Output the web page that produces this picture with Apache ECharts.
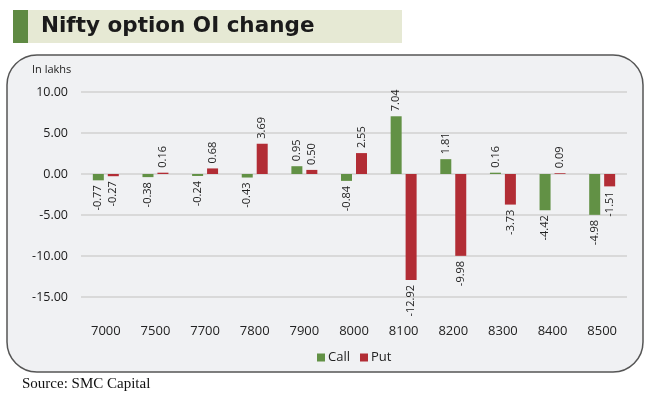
<!DOCTYPE html>
<html>
<head>
<meta charset="utf-8">
<script src="https://cdn.jsdelivr.net/npm/echarts@6/dist/echarts.min.js"></script>
<style>
  html, body { margin: 0; padding: 0; background: #fff; }
  #chart { width: 652px; height: 398px; }
</style>
</head>
<body>
<div id="chart"></div>
<script>
// strikes and OI change (in lakhs)
const strikes = ['7000', '7500', '7700', '7800', '7900', '8000', '8100', '8200', '8300', '8400', '8500'];
const callOI = [-0.77, -0.38, -0.24, -0.43, 0.95, -0.84, 7.04, 1.81, 0.16, -4.42, -4.98];
const putOI = [-0.27, 0.16, 0.68, 3.69, 0.50, 2.55, -12.92, -9.98, -3.73, 0.09, -1.51];
const yTicks = [-15, -10, -5, 0, 5, 10];

const GREEN = '#629145';
const RED = '#b22d35';
const FONT = '"Open Sans", sans-serif';

// label above positive bars, below negative ones
function withLabels(values) {
  return values.map(v => ({
    value: v,
    label: v >= 0
      ? { position: 'top', align: 'left' }
      : { position: 'bottom', align: 'right' }
  }));
}

const chart = echarts.init(document.getElementById('chart'));

const labelStyle = {
  show: true,
  rotate: 90,
  verticalAlign: 'middle',
  distance: 5,
  fontFamily: FONT,
  fontSize: 11,
  color: '#222',
  formatter: p => p.value.toFixed(2)
};

chart.setOption({
  animation: false,
  graphic: [
    // title bar
    { type: 'rect', shape: { x: 13, y: 10, width: 389, height: 33 }, style: { fill: '#e6e9d4' }, z: 0 },
    { type: 'rect', shape: { x: 13, y: 10, width: 15, height: 33 }, style: { fill: '#5f8a43' }, z: 1 },
    { type: 'text', x: 41, y: 26, style: { text: 'Nifty option OI change', font: 'bold 21.5px "DejaVu Sans"', fill: '#1b1b1b', verticalAlign: 'middle' }, z: 2 },
    // chart frame
    { type: 'rect', shape: { x: 7, y: 55, width: 636, height: 317, r: 30 }, style: { fill: '#f0f1f3', stroke: '#555', lineWidth: 1.5 }, z: -1 },
    { type: 'text', x: 32, y: 70, style: { text: 'In lakhs', font: '11px ' + FONT, fill: '#222', verticalAlign: 'middle' } },
    // source
    { type: 'text', x: 22, y: 384, style: { text: 'Source: SMC Capital', font: '15px "Liberation Serif"', fill: '#111', verticalAlign: 'middle' } }
  ],
  legend: {
    left: 312,
    top: 346,
    itemWidth: 8,
    itemHeight: 8,
    itemGap: 10,
    icon: 'rect',
    textStyle: { fontFamily: FONT, fontSize: 13, color: '#222', padding: [0, 0, 0, -2] },
    data: ['Call', 'Put']
  },
  grid: { left: 81, right: 25, top: 92, bottom: 101 },
  xAxis: {
    type: 'category',
    data: strikes,
    axisLine: { show: false, onZero: false },
    axisTick: { show: false },
    axisLabel: { margin: 28, fontFamily: FONT, fontSize: 13, color: '#222' }
  },
  yAxis: {
    type: 'value',
    min: yTicks[0],
    max: yTicks[yTicks.length - 1],
    interval: 5,
    axisLine: { show: false },
    axisTick: { show: false },
    splitLine: { lineStyle: { color: '#d9d9d9', width: 2 } },
    axisLabel: { margin: 13, fontFamily: FONT, fontSize: 12.5, color: '#1a1a1a', formatter: v => v.toFixed(2) }
  },
  series: [
    { name: 'Call', type: 'bar', data: withLabels(callOI), barWidth: 11, barGap: '36%', itemStyle: { color: GREEN }, label: labelStyle },
    { name: 'Put', type: 'bar', data: withLabels(putOI), barWidth: 11, itemStyle: { color: RED }, label: labelStyle }
  ]
});
</script>
</body>
</html>
